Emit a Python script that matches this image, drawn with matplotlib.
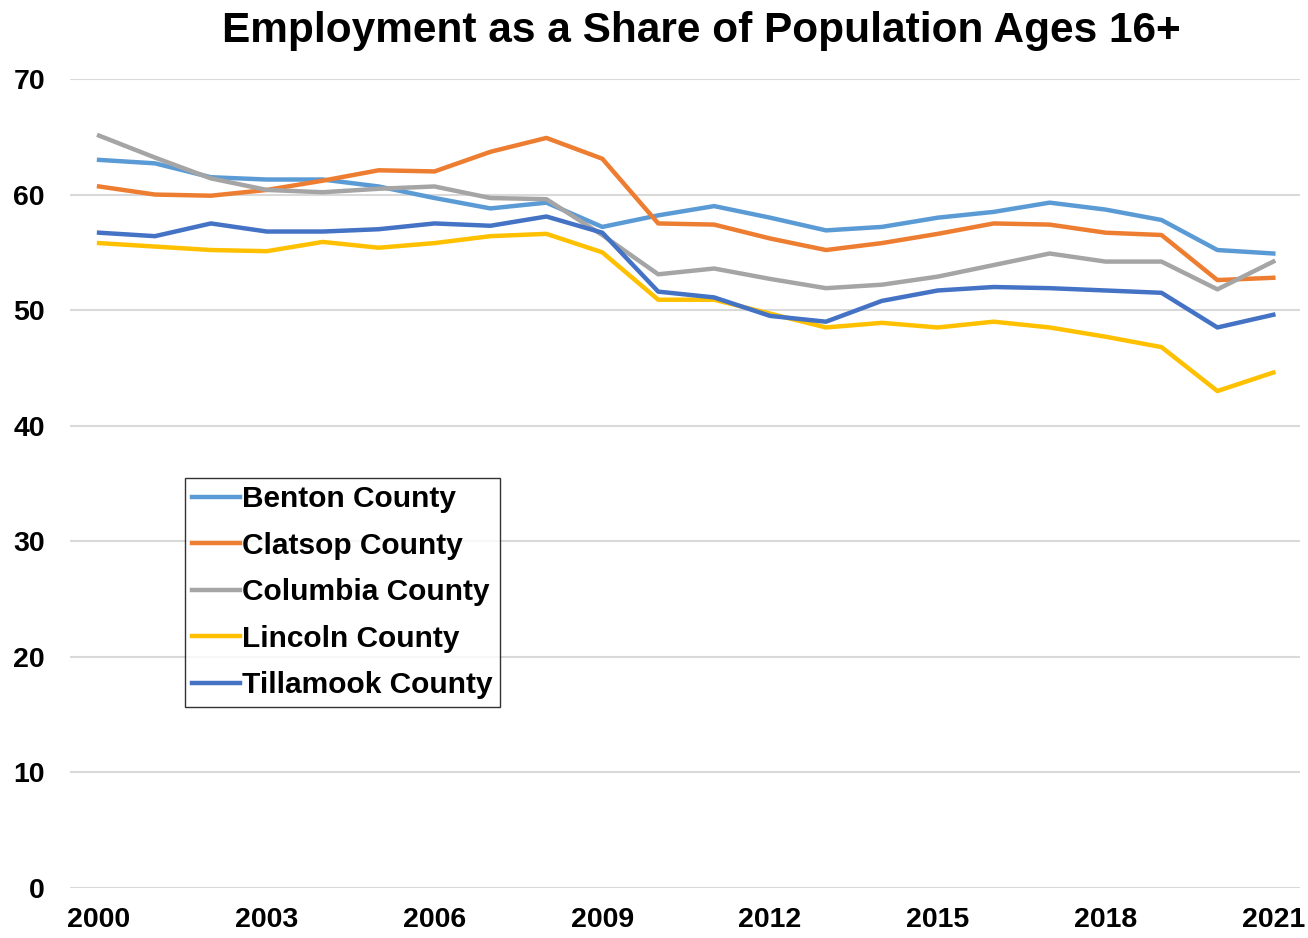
import matplotlib
matplotlib.use('Agg')
import matplotlib.pyplot as plt

# Employment-to-population ratio (%) by county, ages 16+
years = list(range(2000, 2022))
benton = [63.0, 62.7, 61.5, 61.3, 61.3, 60.7, 59.7, 58.8, 59.3, 57.2, 58.2,
          59.0, 58.0, 56.9, 57.2, 58.0, 58.5, 59.3, 58.7, 57.8, 55.2, 54.9]
clatsop = [60.7, 60.0, 59.9, 60.4, 61.2, 62.1, 62.0, 63.7, 64.9, 63.1, 57.5,
           57.4, 56.2, 55.2, 55.8, 56.6, 57.5, 57.4, 56.7, 56.5, 52.6, 52.8]
columbia = [65.1, 63.2, 61.4, 60.4, 60.2, 60.5, 60.7, 59.7, 59.6, 56.5, 53.1,
            53.6, 52.7, 51.9, 52.2, 52.9, 53.9, 54.9, 54.2, 54.2, 51.8, 54.2]
lincoln = [55.8, 55.5, 55.2, 55.1, 55.9, 55.4, 55.8, 56.4, 56.6, 55.0, 50.9,
           50.9, 49.7, 48.5, 48.9, 48.5, 49.0, 48.5, 47.7, 46.8, 43.0, 44.6]
tillamook = [56.7, 56.4, 57.5, 56.8, 56.8, 57.0, 57.5, 57.3, 58.1, 56.7, 51.6,
             51.1, 49.5, 49.0, 50.8, 51.7, 52.0, 51.9, 51.7, 51.5, 48.5, 49.6]

names = ['Benton County', 'Clatsop County', 'Columbia County',
         'Lincoln County', 'Tillamook County']
colors = ['#5B9BD5', '#ED7D31', '#A5A5A5', '#FFC000', '#4472C4']
xticks = [2000, 2003, 2006, 2009, 2012, 2015, 2018, 2021]

plt.rcParams['font.family'] = ['Liberation Sans', 'DejaVu Sans']
plt.rcParams['font.weight'] = 'bold'

fig = plt.figure(figsize=(13.08, 9.38), dpi=100)
ax = fig.add_axes([0.0535, 0.0533, 0.9405, 0.8625])

for vals, name, c in zip([benton, clatsop, columbia, lincoln, tillamook], names, colors):
    ax.plot(years, vals, color=c, linewidth=3.2, label=name)

ax.set_xlim(1999.48, 2021.48)
ax.set_ylim(0, 70)
ax.set_yticks(range(0, 71, 10))
ax.set_xticks(xticks)
ax.grid(axis='y', color='#D9D9D9', linewidth=1.5)
ax.set_axisbelow(True)
for s in ax.spines.values():
    s.set_visible(False)
ax.tick_params(axis='both', length=0, labelsize=20.5)
ax.tick_params(axis='y', pad=18)
ax.tick_params(axis='x', pad=14)
for lab in ax.get_xticklabels() + ax.get_yticklabels():
    lab.set_fontweight('bold')

fig.suptitle('Employment as a Share of Population Ages 16+', fontsize=30.5,
             fontweight='bold', x=0.536, y=0.988, va='top')

leg = ax.legend(loc='upper left', bbox_to_anchor=(0.0935, 0.507), fontsize=21.5,
                frameon=True, fancybox=False, edgecolor='black',
                handlelength=1.6, handletextpad=0.05, borderpad=0.25,
                labelspacing=0.62, borderaxespad=0)
leg.get_frame().set_linewidth(1.0)
for t in leg.get_texts():
    t.set_fontweight('bold')

fig.savefig('out.png', dpi=100)
